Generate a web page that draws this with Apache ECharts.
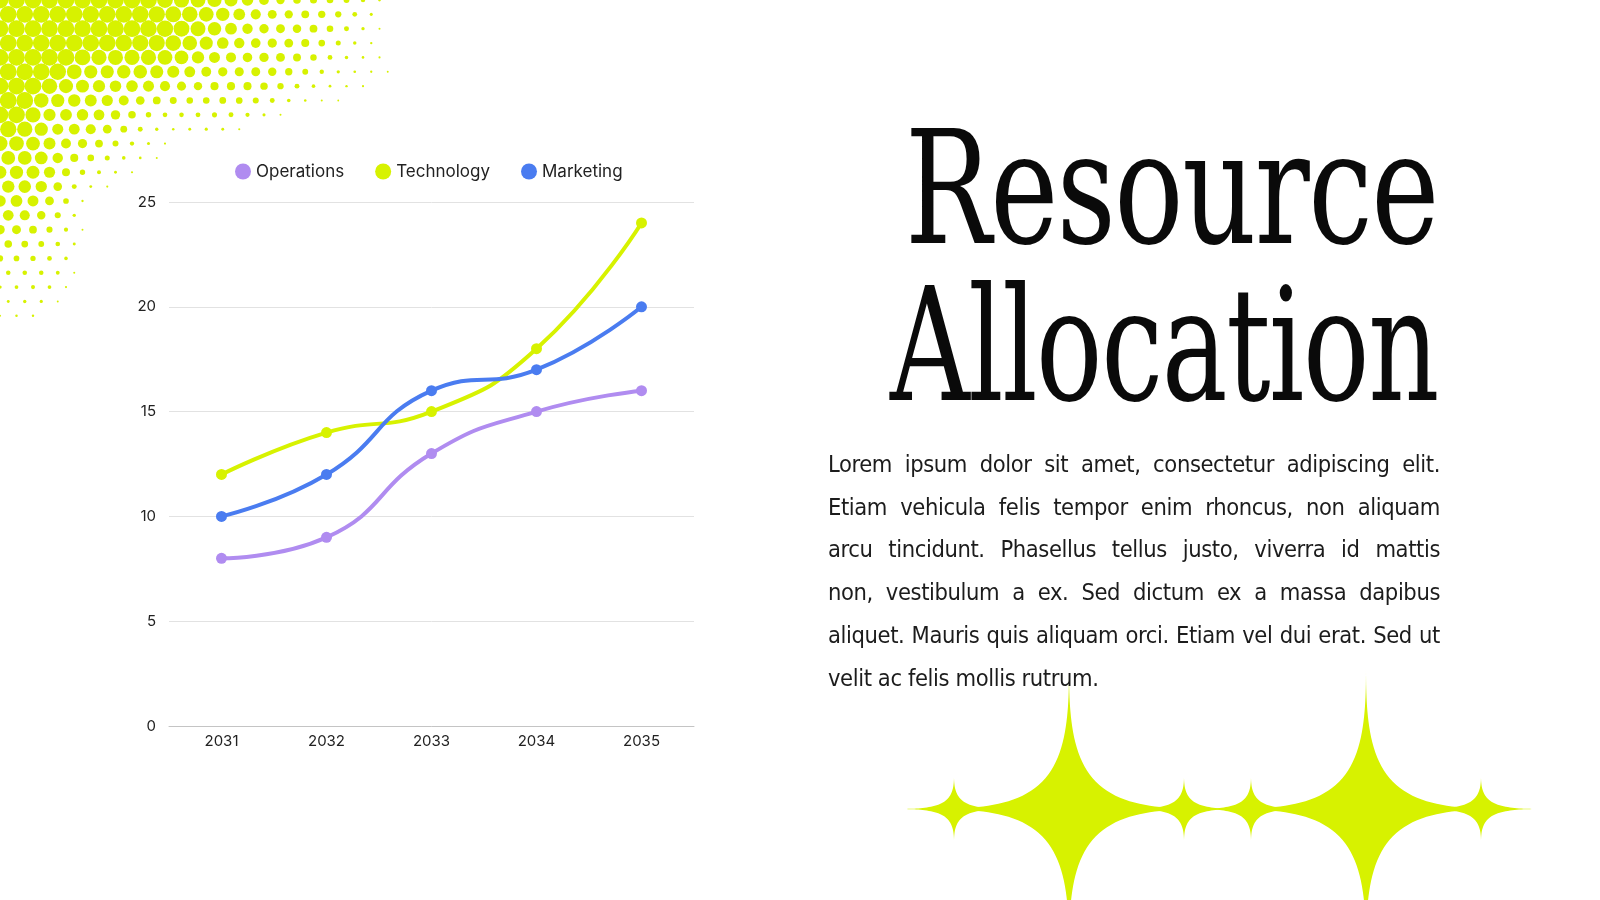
<!DOCTYPE html>
<html>
<head>
<meta charset="utf-8">
<script src="https://cdn.jsdelivr.net/npm/echarts@6/dist/echarts.min.js"></script>
<style>
  html, body { margin: 0; padding: 0; background: #fff; }
  #page { position: relative; width: 1600px; height: 900px; overflow: hidden; }
  #chart { position: absolute; left: 0; top: 0; width: 1600px; height: 900px; }
  .title {
    position: absolute; right: 162px; white-space: nowrap;
    font-family: "DejaVu Serif", serif; font-size: 158px; line-height: 158px;
    color: #0a0a0a; transform-origin: right center; letter-spacing: -2px;
  }
  .para {
    position: absolute; left: 828px; width: 612px; height: 43px; line-height: 43px;
    font-family: "Liberation Sans Narrow", "DejaVu Sans Condensed", sans-serif;
    font-size: 23.5px; letter-spacing: -0.4px; color: #1c1c1c;
    text-align: justify; text-align-last: justify; white-space: nowrap;
  }
  .para.last { text-align-last: left; }
</style>
</head>
<body>
<div id="page">
  <div id="chart"></div>
  <div class="title" style="top:109px">Resource</div>
  <div class="title" style="top:266px">Allocation</div>
  <div id="text"></div>
</div>
<script>
// chart data
const years = ['2031', '2032', '2033', '2034', '2035'];
const operations = [8, 9, 13, 15, 16];
const technology = [12, 14, 15, 18, 24];
const marketing = [10, 12, 16, 17, 20];
const yTicks = [0, 5, 10, 15, 20, 25];

const paragraphLines = [
  'Lorem ipsum dolor sit amet, consectetur adipiscing elit.',
  'Etiam vehicula felis tempor enim rhoncus, non aliquam',
  'arcu tincidunt. Phasellus tellus justo, viverra id mattis',
  'non, vestibulum a ex. Sed dictum ex a massa dapibus',
  'aliquet. Mauris quis aliquam orci. Etiam vel dui erat. Sed ut',
  'velit ac felis mollis rutrum.'
];

const LIME = '#d7f200';

// paragraph, one justified line per row
const textBox = document.getElementById('text');
paragraphLines.forEach((line, i) => {
  const d = document.createElement('div');
  d.className = 'para' + (i === paragraphLines.length - 1 ? ' last' : '');
  d.style.top = (443 + i * 42.7) + 'px';
  d.textContent = line;
  textBox.appendChild(d);
});

// squeeze the title lines to the width they take in the slide
const titleWidths = [533, 548];
document.querySelectorAll('.title').forEach((el, i) => {
  const w = el.getBoundingClientRect().width;
  el.style.transform = 'scaleX(' + (titleWidths[i] / w) + ')';
});

// halftone corner decoration: two lobes (top, left) plus a round corner
function norm(x, y, a, b, p) {
  return Math.pow(Math.pow(x / a, p) + Math.pow(y / b, p), 1 / p);
}
const dots = [];
const step = 16.5;
for (let j = 0; j < 26; j++) {
  for (let i = 0; i < 30; i++) {
    const x = i * step + (j % 2 ? step / 2 : 0);
    const y = j * step * 0.87;
    let s = Math.min(norm(x, y, 425, 150, 3), norm(x, y, 105, 340, 3), norm(x, y, 240, 240, 2));
    s += 0.03 * Math.sin((x + y) * 0.05);
    const r = 8.4 * Math.min(1, Math.max(0, (1.0 - s) / 0.62));
    if (r < 0.9) continue;
    dots.push({
      type: 'circle', silent: true, z: 0,
      shape: { cx: x, cy: y, r: r },
      style: { fill: LIME }
    });
  }
}

// sparkle stars: concave four-point shapes |x/h|^p + |y/v|^p = 1
function starPoints(cx, cy, h, v) {
  const p = 0.42, n = 60, pts = [];
  for (let k = 0; k < 4 * n; k++) {
    const t = (k / (4 * n)) * Math.PI * 2;
    const c = Math.cos(t), s = Math.sin(t);
    pts.push([
      cx + Math.sign(c) * h * Math.pow(Math.abs(c), 2 / p),
      cy + Math.sign(s) * v * Math.pow(Math.abs(s), 2 / p)
    ]);
  }
  return pts;
}
const stars = [
  [954, 58, 34], [1069, 140, 142], [1184, 58, 34],
  [1251, 58, 34], [1366, 140, 142], [1481, 62, 34]
].map(([cx, h, v]) => ({
  type: 'polygon', silent: true, z: 0,
  shape: { points: starPoints(cx, 809, h, v) },
  style: { fill: LIME }
}));

const chart = echarts.init(document.getElementById('chart'));
const font = 'Inter, "Noto Sans", sans-serif';

const option = {
  animation: false,
  graphic: dots.concat(stars),
  legend: {
    top: 158, left: 230,
    icon: 'circle', itemWidth: 16, itemHeight: 16, itemGap: 31,
    textStyle: { fontFamily: font, fontSize: 17, color: '#222' },
    data: ['Operations', 'Technology', 'Marketing']
  },
  grid: { left: 169, right: 906, top: 202, bottom: 174, containLabel: false },
  xAxis: {
    type: 'category', data: years, boundaryGap: true,
    axisTick: { show: false },
    axisLine: { lineStyle: { color: '#c4c4c4', width: 1 } },
    axisLabel: { fontFamily: font, fontSize: 15, color: '#222', margin: 8 }
  },
  yAxis: {
    type: 'value', min: yTicks[0], max: yTicks[yTicks.length - 1], interval: 5,
    axisLine: { show: false }, axisTick: { show: false },
    axisLabel: { fontFamily: font, fontSize: 15, color: '#222', margin: 13 },
    splitLine: { lineStyle: { color: '#e2e2e2', width: 1 } }
  },
  series: [
    { name: 'Operations', data: operations, color: '#b08cf0' },
    { name: 'Technology', data: technology, color: LIME },
    { name: 'Marketing', data: marketing, color: '#4a7cf0' }
  ].map(s => ({
    name: s.name, type: 'line', data: s.data, smooth: 0.5,
    symbol: 'circle', symbolSize: 11, showSymbol: true,
    lineStyle: { width: 4, color: s.color },
    itemStyle: { color: s.color }
  }))
};

chart.setOption(option);
</script>
</body>
</html>
